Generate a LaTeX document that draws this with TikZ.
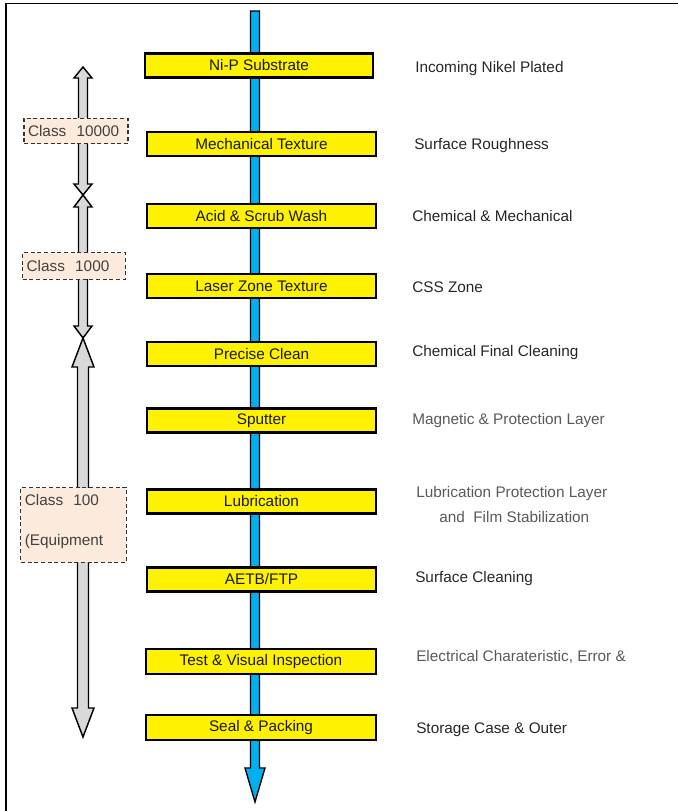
\documentclass[tikz,border=0pt]{standalone}
\usepackage{fontspec}
\setmainfont{Liberation Sans}
\definecolor{flowblue}{RGB}{0,176,240}
\definecolor{peach}{RGB}{252,234,221}
\definecolor{arrowgray}{RGB}{217,217,217}
\newcommand\mydblarrow[7]{% name cx top bot headlen headhw shafthw
  \coordinate (#1top) at (#2,#3);
  \coordinate (#1bot) at (#2,#4);
  \draw[grayblock] (#1top) -- (#2+#6,#3+#5) -- (#2+#7,#3+#5) -- (#2+#7,#4-#5) -- (#2+#6,#4-#5) -- (#1bot)
    -- (#2-#6,#4-#5) -- (#2-#7,#4-#5) -- (#2-#7,#3+#5) -- (#2-#6,#3+#5) -- cycle;}
\begin{document}
\begin{tikzpicture}[x=0.75pt,y=-0.75pt,
  stepbox/.style={draw=black, line width=1.6pt, fill=yellow, minimum width=172pt, minimum height=18pt, inner sep=0pt, font=\fontsize{11.5}{13}\selectfont, text=black!90},
  note/.style={anchor=west, inner sep=0pt, font=\fontsize{11.5}{13}\selectfont, text=black!85},
  lightnote/.style={note, text=black!65},
  classbox/.style={draw=black!80, densely dashed, line width=0.8pt, fill=peach, inner sep=2pt, align=left, font=\fontsize{11.5}{13}\selectfont, text=black!75},
  grayblock/.style={draw=black, line width=1.1pt, fill=arrowgray, line join=miter},
  frame/.style={draw=black, line width=1.2pt}]
\useasboundingbox (0,0) rectangle (678,811);
% frame
\draw[frame] (6,811) -- (6,3.5) -- (678,3.5);
% main flow arrow
\coordinate (ftop) at (255,11);
\coordinate (fbot) at (255,802);
\draw[draw=black, line width=1pt, fill=flowblue] (250.5,11) -- (259.5,11) -- (259.5,768) -- (265,768) -- (fbot) -- (245,768) -- (250.5,768) -- cycle;
% process steps
\node[stepbox, minimum width=171pt] (s1) at (259,65.5) {Ni-P Substrate};
\node[stepbox] (s2) at (261.5,144) {Mechanical Texture};
\node[stepbox] (s3) at (261.5,216) {Acid \& Scrub Wash};
\node[stepbox] (s4) at (261.5,286) {Laser Zone Texture};
\node[stepbox] (s5) at (261.5,354) {Precise Clean};
\node[stepbox] (s6) at (261.5,420.5) {Sputter};
\node[stepbox] (s7) at (261.5,501.5) {Lubrication};
\node[stepbox] (s8) at (261.5,579.5) {AETB/FTP};
\node[stepbox, minimum height=19pt] (s9) at (261,661.5) {Test \& Visual Inspection};
\node[stepbox, minimum height=19pt] (s10) at (261,727.5) {Seal \& Packing};
% descriptions
\node[note] (d1) at (415,69) {Incoming Nikel Plated};
\node[note] (d2) at (414,146) {Surface Roughness};
\node[note] (d3) at (412,216) {Chemical \& Mechanical};
\node[note] (d4) at (412,287) {CSS Zone};
\node[note] (d5) at (412,353) {Chemical Final Cleaning};
\node[lightnote] (d6) at (412,421) {Magnetic \& Protection Layer};
\node[lightnote] (d7) at (416,494) {Lubrication Protection Layer};
\node[lightnote] (d7b) at (439,517) {and~~Film Stabilization};
\node[note] (d8) at (415,579) {Surface Cleaning};
\node[lightnote] (d9) at (416,657) {Electrical Charateristic, Error \&};
\node[note] (d10) at (416,730) {Storage Case \& Outer};
% clean class arrows
\mydblarrow{aa}{83}{67}{195}{11}{9}{4.5}
\mydblarrow{ab}{83}{195}{338}{12}{9}{4.5}
\mydblarrow{ac}{83}{338}{737}{29}{11}{5.5}
% class labels
\node[classbox, minimum width=78pt, minimum height=19pt, text width=72pt] (c1) at (76,131) {Class~~10000};
\node[classbox, minimum width=77pt, minimum height=20pt, text width=71pt] (c2) at (74,266) {Class~~1000};
\node[classbox, minimum width=79pt, minimum height=56pt, text width=73pt] (c3) at (73.5,525) {Class~~100\\[17pt](Equipment\\[-6pt]\mbox{}};
\end{tikzpicture}
\end{document}
